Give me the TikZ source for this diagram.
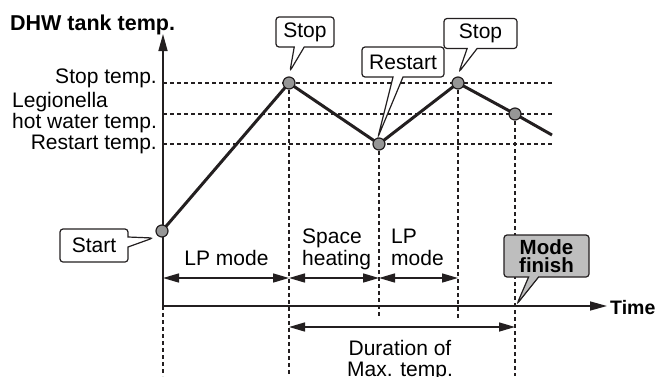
\documentclass[tikz,border=0pt]{standalone}
\usepackage{fontspec}
\setmainfont{Liberation Sans}
\usetikzlibrary{arrows.meta,shapes.callouts}
\definecolor{ink}{RGB}{35,31,32}
\definecolor{dotgray}{RGB}{150,150,150}
\definecolor{boxgray}{RGB}{190,190,190}
\tikzset{
  graph/.style={ink,line width=3pt,line join=round},
  guide/.style={ink,line width=1.2pt,dash pattern=on 4pt off 3pt},
  dot/.style={circle,draw=ink,fill=dotgray,line width=1.2pt,minimum size=12pt,inner sep=0pt},
  dim/.style={ink,line width=1.5pt,{Triangle[length=16pt,width=9pt]}-{Triangle[length=16pt,width=9pt]}},
  axis/.style={ink,line width=1.5pt,-{Triangle[length=17pt,width=9pt]}},
  callbox/.style={rectangle callout,draw=ink,line width=1.2pt,rounded corners=3pt,fill=white,
    callout pointer width=10pt,inner sep=0pt,minimum height=30pt},
  lbl/.style={inner sep=0pt,align=left},
}
\begin{document}
\begin{tikzpicture}[x=1pt,y=1pt,font=\fontsize{21}{21.5}\selectfont]
\useasboundingbox (0,0) rectangle (658,376);
% axes and reference points
\coordinate (O) at (163,70);
\coordinate (top) at (163,342);
\coordinate (tend) at (607,70);
\coordinate (bot) at (163,0);
\coordinate (cut) at (163,58);
\coordinate (row) at (163,98);
\coordinate (drow) at (163,49);
\coordinate (p0) at (162,145);
\coordinate (p1) at (289,293);
\coordinate (p2) at (379,232);
\coordinate (p3) at (458,293);
\coordinate (p4) at (515,262);
\coordinate (p5) at (552,241);
% callout tips
\coordinate (t0) at (153,138);
\coordinate (t1) at (290,305);
\coordinate (t2) at (378,239);
\coordinate (t3) at (459,304);
\coordinate (t4) at (517,72);

\draw[guide] (O |- p1) -- (p5 |- p1);
\draw[guide] (O |- p4) -- (p5 |- p4);
\draw[guide] (O |- p2) -- (p5 |- p2);
\draw[guide] (O) -- (bot);
\draw[guide] (p1) -- (p1 |- bot);
\draw[guide] (p2) -- (p2 |- cut);
\draw[guide] (p3) -- (p3 |- cut);
\draw[guide] (p4) -- (p4 |- bot);

\draw[axis] (O) -- (top);
\draw[axis] (O) -- (tend);

\draw[graph] (p0) -- (p1) -- (p2) -- (p3) -- (p4) -- (p5);
\foreach \p in {p0,p1,p2,p3,p4}
  \node[dot] (d\p) at (\p) {};

\draw[dim] (row) -- (p1 |- row);
\draw[dim] (p1 |- row) -- (p2 |- row);
\draw[dim] (p2 |- row) -- (p3 |- row);
\draw[dim] (p1 |- drow) -- (p4 |- drow);

% texts
\node[lbl,anchor=base west,font=\bfseries\fontsize{21.5}{21.5}\selectfont] (ylab) at (10,346) {DHW tank temp.};
\node[lbl,anchor=base west,font=\bfseries\fontsize{19.5}{21.5}\selectfont] (xlab) at (610,62) {Time};
\node[lbl,anchor=base east] (stoptemp) at (157,293) {Stop temp.};
\node[lbl,anchor=west] (legio) at (12,263.5) {Legionella\\hot water temp.};
\node[lbl,anchor=base east] (restemp) at (157,227) {Restart temp.};
\node[lbl,anchor=base] (lp1) at (226.5,111) {LP mode};
\node[lbl,anchor=west] (heat) at (302,126.8) {Space\\heating};
\node[lbl,anchor=west] (lp2) at (391,128.8) {LP\\mode};
\node[lbl,align=center] (dur) at (400,15.5) {Duration of\\Max. temp.};

% callouts
\node[callbox,minimum width=68pt,minimum height=33pt,callout absolute pointer=(t0)] (cstart) at (94,130.5) {Start};
\node[callbox,minimum width=58pt,callout absolute pointer=(t1)] (cstop1) at (305,344) {Stop};
\node[callbox,minimum width=82pt,callout absolute pointer=(t2)] (crestart) at (403,314) {Restart};
\node[callbox,minimum width=73pt,callout absolute pointer=(t3)] (cstop2) at (480.5,342.5) {Stop};
\node[callbox,fill=boxgray,minimum width=85pt,minimum height=42pt,align=center,
  font=\bfseries\fontsize{20.5}{17.5}\selectfont,callout absolute pointer=(t4)] (cfinish) at (546.5,120) {Mode\\finish};
\end{tikzpicture}
\end{document}
